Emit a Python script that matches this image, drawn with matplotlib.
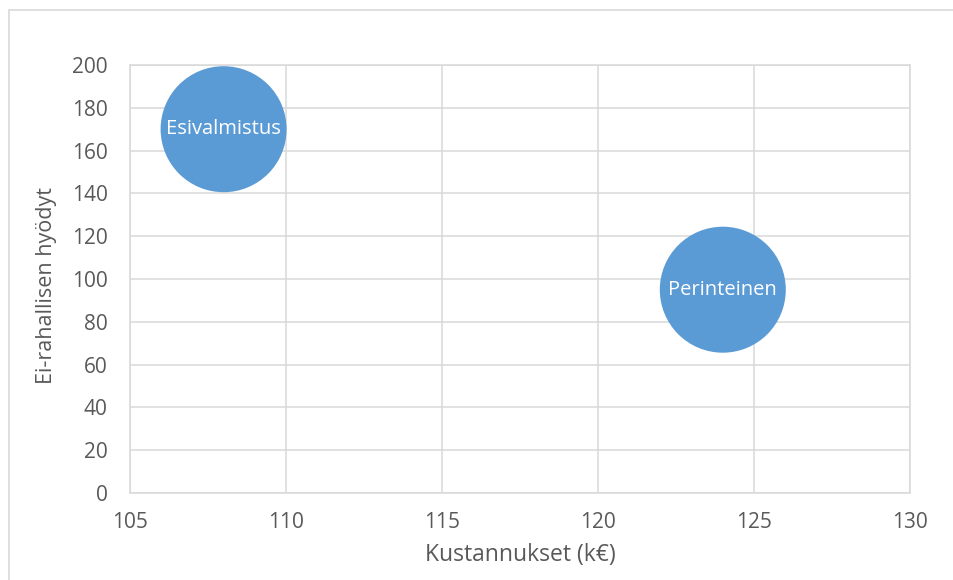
import numpy as np
import matplotlib.pyplot as plt
from matplotlib.patches import Rectangle

# Vaihtoehdot: kustannukset (k€), ei-rahalliset hyödyt ja kuplan koko
names = ['Esivalmistus', 'Perinteinen']
costs = [108, 124]
benefits = [170, 95]
bubble_size = [1, 1]

plt.rcParams['font.family'] = ['Open Sans', 'DejaVu Sans']

grid_col = '#D9D9D9'
text_col = '#595959'
blue = '#5B9BD5'

fig = plt.figure(figsize=(9.54, 5.8), dpi=100)
fig.patches.append(Rectangle((9 / 954, -0.1), 1.2, (580 - 10) / 580 + 0.1,
                             transform=fig.transFigure, fill=False,
                             edgecolor=grid_col, linewidth=1.2))

ax = fig.add_axes([130 / 954, 87 / 580, 780 / 954, 428 / 580])

# kuplan halkaisija ~126 px -> pisteinä
diam_pt = 126 * 72 / 100
s = [(diam_pt * b) ** 2 for b in bubble_size]
ax.scatter(costs, benefits, s=s, color=blue, edgecolors='none', zorder=3, clip_on=False)
for n, x, y in zip(names, costs, benefits):
    ax.text(x, y, n, color='white', ha='center', va='center', fontsize=14.5, zorder=4)

ax.set_xlim(105, 130)
ax.set_ylim(0, 200)
ax.set_xticks(np.arange(105, 131, 5))
ax.set_yticks(np.arange(0, 201, 20))
ax.grid(True, color=grid_col, linewidth=1.1)
ax.set_axisbelow(True)
for sp in ax.spines.values():
    sp.set_color(grid_col)
    sp.set_linewidth(1.1)
ax.tick_params(length=0, labelsize=15, colors=text_col)
ax.tick_params(axis='x', pad=14)
ax.tick_params(axis='y', pad=16)

ax.set_xlabel('Kustannukset (k€)', fontsize=16.5, color=text_col, labelpad=7)
ax.set_ylabel('Ei-rahallisen hyödyt', fontsize=15.5, color=text_col, labelpad=11)
ax.yaxis.label.set_y(0.484)

fig.savefig('out.png', dpi=100)
